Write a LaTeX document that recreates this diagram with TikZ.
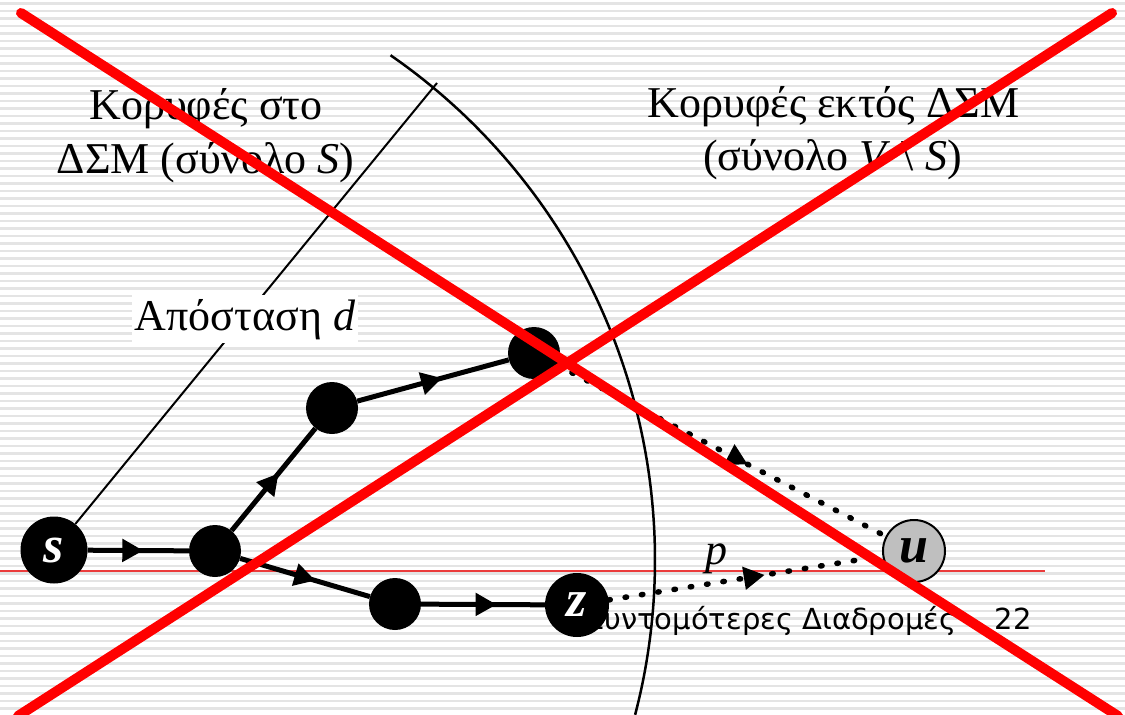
\documentclass[tikz,border=0pt]{standalone}
\usepackage{fontspec}
\setmainfont{Liberation Serif}
\newfontfamily\footfont{DejaVu Sans}
\usetikzlibrary{arrows.meta,decorations.markings}
\definecolor{stripecol}{RGB}{228,228,228}
\definecolor{thinred}{RGB}{235,60,60}
\definecolor{crossred}{RGB}{255,0,0}
\newcommand\bigtxt{\fontsize{44}{50}\selectfont}
\newcommand\lbltxt{\fontsize{52}{56}\selectfont}
\newcommand\ptxt{\fontsize{44}{48}\selectfont}
\begin{document}
\begin{tikzpicture}[x=1pt,y=-1pt,
  vtx/.style={circle,fill=black,inner sep=0pt,text=white,font=\lbltxt\bfseries\itshape},
  uvtx/.style={circle,fill=gray!50,draw=black,line width=2pt,inner sep=0pt,font=\lbltxt\bfseries\itshape},
  midarrow/.style={postaction={decorate},decoration={markings,mark=at position #1 with {\arrow{Triangle[length=21pt,width=22pt]}}}},
  thick edge/.style={line width=5pt},
  dotline/.style={line width=5.5pt,line cap=round,dash pattern=on 1.5pt off 15pt},
  txt/.style={font=\bigtxt,inner sep=0pt,anchor=base},
  xline/.style={draw=crossred,line width=10pt,line cap=round}]
\useasboundingbox (0,0) rectangle (1125,715);
\fill[white] (0,0) rectangle (1125,715);
\foreach \k in {0,...,95} \fill[stripecol] (0,{2+7.5*\k}) rectangle (1125,{4.6+7.5*\k});
% footer
\node[anchor=base west,inner sep=0pt,font=\footfont\fontsize{29}{33}\selectfont] (foot) at (586,629) {Συντομότερες Διαδρομές};
\node[anchor=base east,inner sep=0pt,font=\footfont\fontsize{29}{33}\selectfont] (page) at (1032,629) {22};
% thin red line
\coordinate (hl) at (0,571);
\coordinate (hr) at (1045,571);
\draw[thinred,line width=1.5pt] (hl) -- (hr);
% texts
\node[txt] (t1) at (206,119) {Κορυφές στο};
\node[txt] (t2) at (205.5,173) {ΔΣΜ (σύνολο \textit{S})};
\node[txt] (t3) at (833.5,117) {Κορυφές εκτός ΔΣΜ};
\node[txt] (t4) at (832.5,170) {(σύνολο \textit{V} \textbackslash{} \textit{S})};
% vertices
\node[vtx,minimum size=67pt] (s) at (54,550) {s};
\node[vtx,minimum size=52pt] (n2) at (215,551) {};
\node[vtx,minimum size=52pt] (n3) at (332,408) {};
\node[vtx,minimum size=52pt] (n4) at (534,353) {};
\node[vtx,minimum size=52pt] (n5) at (395,604) {};
\node[vtx,minimum size=64pt] (z) at (577,605) {z};
\node[uvtx,minimum size=62pt] (u) at (914,551) {u};
% arc boundary
\draw[line width=2.5pt] plot[smooth,domain=55.3:-14.6,samples=60] ({41+614*cos(\x)},{560-614*sin(\x)});
% distance line and label
\coordinate (dtop) at (437,83);
\draw[line width=2pt] (s) -- (dtop);
\node[fill=white,inner xsep=3pt,inner ysep=4pt,font=\bigtxt,anchor=base] (dlab) at (245,330) {Απόσταση \textit{d}};
% edges
\draw[thick edge,midarrow=0.55] (s) -- (n2);
\draw[thick edge,midarrow=0.56] (n2) -- (n3);
\draw[thick edge,midarrow=0.56] (n3) -- (n4);
\draw[thick edge,midarrow=0.58] (n2) -- (n5);
\draw[thick edge,midarrow=0.61] (n5) -- (z);
\draw[dotline,midarrow=0.58] (n4) -- (u);
\draw[dotline,midarrow=0.57] (z) -- (u);
\node[anchor=base west,inner sep=0pt,font=\ptxt\itshape] (p) at (705,564) {p};
% red cross
\coordinate (x1a) at (21,13);
\coordinate (x1b) at (1118,716);
\coordinate (x2a) at (18,716);
\coordinate (x2b) at (1112,13);
\draw[xline] (x1a) -- (x1b);
\draw[xline] (x2a) -- (x2b);
\end{tikzpicture}
\end{document}
